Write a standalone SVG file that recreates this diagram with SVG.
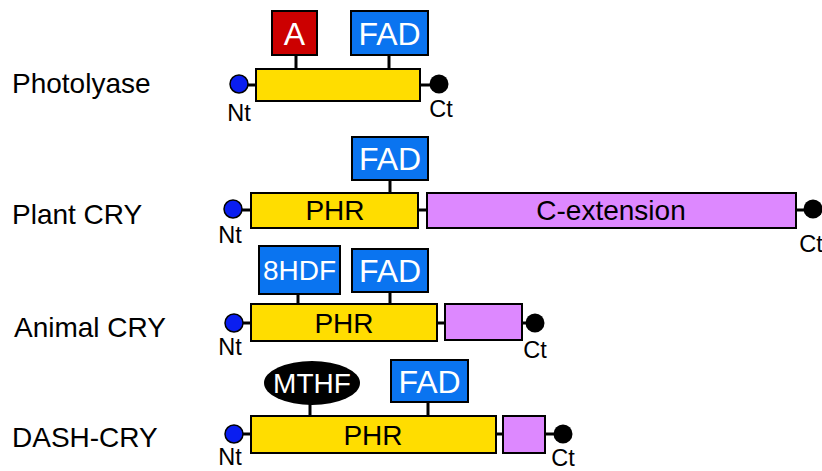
<svg xmlns="http://www.w3.org/2000/svg" width="822" height="471" viewBox="0 0 822 471">
  <style>
    text { font-family: "Liberation Sans", Arial, sans-serif; }
    .lbl { font-size: 28px; fill: #000; }
    .term { font-size: 23.5px; fill: #000; text-anchor: middle; }
    .core { fill: #ffdd00; stroke: #000; stroke-width: 2; }
    .ext { fill: #dd88ff; stroke: #000; stroke-width: 2; }
    .fad { fill: #0a74f0; stroke: #000; stroke-width: 2; }
    .ant { fill: #cc0000; stroke: #000; stroke-width: 2; }
    .mthf { fill: #000; }
    .cof { font-size: 32px; fill: #fff; text-anchor: middle; }
    .cof2 { font-size: 28px; fill: #fff; text-anchor: middle; }
    .dom { font-size: 28px; fill: #000; text-anchor: middle; }
    .nt { fill: #0a1ef0; stroke: #000; stroke-width: 1.5; }
    .ct { fill: #000; }
    .link { stroke: #000; stroke-width: 3; fill: none; }
  </style>

  <!-- connectors: stems from cofactors and linkers between termini / domains -->
  <g id="connectors">
    <!-- Photolyase -->
    <line class="link" x1="239" y1="85" x2="256" y2="85"/>
    <line class="link" x1="420" y1="85" x2="439" y2="85"/>
    <line class="link" x1="296" y1="55" x2="296" y2="69"/>
    <line class="link" x1="389" y1="55" x2="389" y2="69"/>
    <!-- Plant CRY -->
    <line class="link" x1="233" y1="210" x2="251" y2="210"/>
    <line class="link" x1="418" y1="210" x2="427" y2="210"/>
    <line class="link" x1="796" y1="210" x2="813" y2="210"/>
    <line class="link" x1="390" y1="180" x2="390" y2="193"/>
    <!-- Animal CRY -->
    <line class="link" x1="234" y1="323" x2="251" y2="323"/>
    <line class="link" x1="437" y1="323" x2="445" y2="323"/>
    <line class="link" x1="522" y1="323" x2="535" y2="323"/>
    <line class="link" x1="298" y1="294" x2="298" y2="304"/>
    <line class="link" x1="390" y1="292" x2="390" y2="304"/>
    <!-- DASH-CRY -->
    <line class="link" x1="234" y1="434" x2="251" y2="434"/>
    <line class="link" x1="496" y1="434" x2="503" y2="434"/>
    <line class="link" x1="545" y1="434" x2="563" y2="434"/>
    <line class="link" x1="310" y1="403" x2="310" y2="416"/>
    <line class="link" x1="428" y1="402" x2="428" y2="416"/>
  </g>

  <!-- Photolyase -->
  <g id="photolyase">
    <text class="lbl" x="12" y="93">Photolyase</text>
    <rect class="core" x="256" y="69" width="164" height="32"/>
    <rect class="ant" x="272" y="11" width="45" height="44"/>
    <text class="cof" x="294.5" y="45">A</text>
    <rect class="fad" x="351" y="11" width="77" height="44"/>
    <text class="cof" x="389.5" y="45">FAD</text>
    <circle class="nt" cx="239" cy="84" r="9"/>
    <circle class="ct" cx="439" cy="84" r="9.5"/>
    <text class="term" x="239" y="121">Nt</text>
    <text class="term" x="441" y="117">Ct</text>
  </g>

  <!-- Plant CRY -->
  <g id="plant-cry">
    <text class="lbl" x="12" y="224">Plant CRY</text>
    <rect class="core" x="251" y="193" width="167" height="35"/>
    <text class="dom" x="335" y="220">PHR</text>
    <rect class="ext" x="427" y="193" width="369" height="35"/>
    <text class="dom" x="611" y="220">C-extension</text>
    <rect class="fad" x="352" y="137" width="76" height="43"/>
    <text class="cof" x="390" y="170">FAD</text>
    <circle class="nt" cx="233" cy="209" r="9"/>
    <circle class="ct" cx="813" cy="209" r="9.5"/>
    <text class="term" x="230" y="243">Nt</text>
    <text class="term" x="811" y="252">Ct</text>
  </g>

  <!-- Animal CRY -->
  <g id="animal-cry">
    <text class="lbl" x="14" y="337">Animal CRY</text>
    <rect class="core" x="251" y="304" width="186" height="37"/>
    <text class="dom" x="344" y="333">PHR</text>
    <rect class="ext" x="445" y="304" width="77" height="36"/>
    <rect class="fad" x="259" y="246" width="81" height="48"/>
    <text class="cof2" x="299.5" y="280">8HDF</text>
    <rect class="fad" x="352" y="249" width="76" height="43"/>
    <text class="cof" x="390" y="282">FAD</text>
    <circle class="nt" cx="234" cy="323" r="9"/>
    <circle class="ct" cx="535" cy="323" r="9.5"/>
    <text class="term" x="230" y="355">Nt</text>
    <text class="term" x="535" y="358">Ct</text>
  </g>

  <!-- DASH-CRY -->
  <g id="dash-cry">
    <text class="lbl" x="12" y="447">DASH-CRY</text>
    <rect class="core" x="251" y="416" width="245" height="37"/>
    <text class="dom" x="373" y="445">PHR</text>
    <rect class="ext" x="503" y="416" width="42" height="37"/>
    <ellipse class="mthf" cx="312" cy="383" rx="48" ry="22"/>
    <text class="cof2" x="312" y="393">MTHF</text>
    <rect class="fad" x="391" y="360" width="77" height="42"/>
    <text class="cof" x="429.5" y="393">FAD</text>
    <circle class="nt" cx="234" cy="434" r="9"/>
    <circle class="ct" cx="563" cy="434" r="9.5"/>
    <text class="term" x="230" y="465">Nt</text>
    <text class="term" x="563" y="466">Ct</text>
  </g>
</svg>
